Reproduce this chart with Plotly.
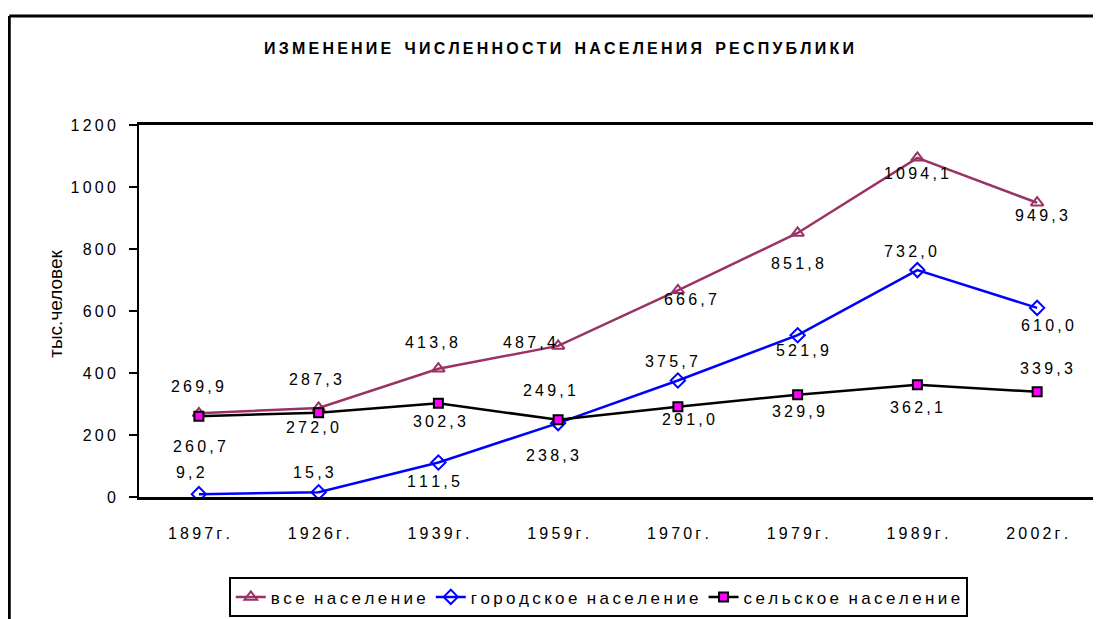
import plotly.graph_objects as go

# ---- data ----
years = ["1897г.", "1926г.", "1939г.", "1959г.", "1970г.", "1979г.", "1989г.", "2002г."]
total = [269.9, 287.3, 413.8, 487.4, 666.7, 851.8, 1094.1, 949.3]
urban = [9.2, 15.3, 111.5, 238.3, 375.7, 521.9, 732.0, 610.0]
rural = [260.7, 272.0, 302.3, 249.1, 291.0, 329.9, 362.1, 339.3]
y_ticks = [0, 200, 400, 600, 800, 1000, 1200]

title_text = "ИЗМЕНЕНИЕ ЧИСЛЕННОСТИ НАСЕЛЕНИЯ РЕСПУБЛИКИ"
y_title = "тыс.человек"
names = ["все население", "городское население", "сельское население"]

# ---- label offsets (pixels, style only) ----
off_total = [(-1, 27), (-3, 28), (-7, 26), (-29, 3), (13, -9), (0, -31), (-1, -16), (4, -13)]
off_urban = [(-8, 22), (-5, 20), (-5, -19), (-6, -32), (-6, 19), (5, -15), (-7, 19), (10, -18)]
off_rural = [(1, -30), (-6, -15), (1, -18), (-9, 29), (11, -13), (1, -17), (-1, -23), (9, 23)]

FONT = "Liberation Sans, Arial, sans-serif"
NB = "\u00a0"
TS = "\u2009"


def spaced(s, gap=TS, wordgap=NB * 2):
    words = s.split(" ")
    return wordgap.join(gap.join(list(w)) for w in words)


def num_label(v):
    return spaced(f"{v:.1f}".replace(".", ","))


fig = go.Figure()
fig.add_trace(go.Scatter(
    x=years, y=total, mode="lines+markers", name=spaced(names[0]),
    line=dict(color="#993366", width=2.5),
    marker=dict(symbol="triangle-up-open", size=11, color="#993366", line=dict(width=2, color="#993366")),
))
fig.add_trace(go.Scatter(
    x=years, y=urban, mode="lines+markers", name=spaced(names[1]),
    line=dict(color="#0000FF", width=2.5),
    marker=dict(symbol="diamond-open", size=11, color="#0000FF", line=dict(width=2, color="#0000FF")),
))
fig.add_trace(go.Scatter(
    x=years, y=rural, mode="lines+markers", name=spaced(names[2]),
    line=dict(color="#000000", width=2.5),
    marker=dict(symbol="square", size=9, color="#FF00FF", line=dict(width=2, color="#000000")),
))

annotations = []
for series, offs in ((total, off_total), (urban, off_urban), (rural, off_rural)):
    for xv, yv, (dx, dy) in zip(years, series, offs):
        annotations.append(dict(
            x=xv, y=yv, xref="x", yref="y", text=num_label(yv), showarrow=False,
            xshift=dx, yshift=dy, font=dict(family=FONT, size=16, color="#000"),
        ))

# y-axis title
annotations.append(dict(
    x=(55 - 139) / 960, y=(498 - 303) / 375, xref="paper", yref="paper", text=y_title, textangle=-90,
    xanchor="center", yanchor="middle",
    showarrow=False, font=dict(family=FONT, size=19, color="#000"),
))

W, H = 1093, 611   # page body has an 8px margin
fig.update_layout(
    width=W, height=H,
    margin=dict(l=131, r=2, t=117, b=119),
    paper_bgcolor="white", plot_bgcolor="white",
    title=dict(text="<b>" + spaced(title_text, wordgap=NB * 3) + "</b>", x=551 / W, xanchor="center",
               y=1 - 40 / H, yanchor="middle", yref="container",
               font=dict(family=FONT, size=16, color="#000")),
    font=dict(family=FONT, size=16, color="#000"),
    showlegend=True,
    legend=dict(orientation="h", x=(229 - 139) / 960, xanchor="left", y=(498 - 579) / 375, yanchor="top",
                bordercolor="#000", borderwidth=2, bgcolor="white",
                font=dict(family=FONT, size=17, color="#000"), tracegroupgap=0, itemwidth=30),
    annotations=annotations,
)
fig.update_xaxes(
    type="category", range=[-0.5, 7.5], showgrid=False, zeroline=False,
    showline=True, linecolor="#000", linewidth=3, mirror=True, ticks="",
    tickvals=years, ticktext=[spaced(y) for y in years], ticklabelstandoff=20,
    tickfont=dict(family=FONT, size=16, color="#000"),
)
fig.update_yaxes(
    range=[0, 1200], showgrid=False, zeroline=False,
    showline=True, linecolor="#000", linewidth=2, mirror=True,
    ticks="outside", ticklen=8, tickwidth=2, tickcolor="#000",
    tickvals=y_ticks, ticktext=[spaced(str(v)) for v in y_ticks], ticklabelstandoff=10,
    tickfont=dict(family=FONT, size=16, color="#000"),
)

# outer frame of the chart area
fx = (9 - 139) / 960
fy = (498 - 13) / 375
fig.add_shape(type="line", xref="paper", yref="paper", x0=fx, x1=1.1, y0=fy, y1=fy,
              line=dict(color="#000", width=3))
fig.add_shape(type="line", xref="paper", yref="paper", x0=fx, x1=fx, y0=fy, y1=-0.5,
              line=dict(color="#000", width=3))

fig.write_html("out.html")
